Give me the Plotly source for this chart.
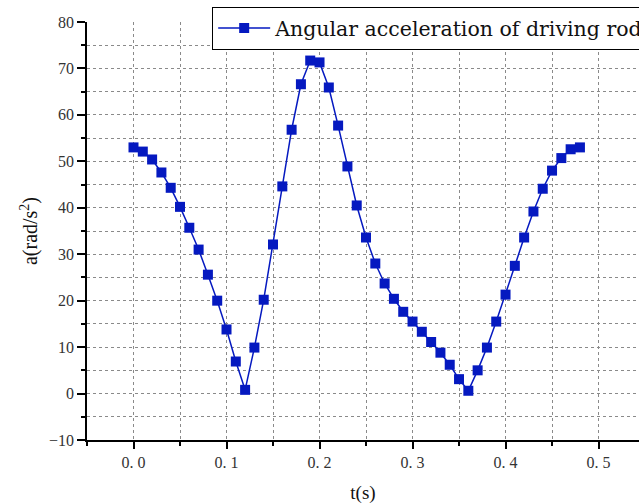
import plotly.graph_objects as go

t = [0.00, 0.01, 0.02, 0.03, 0.04, 0.05, 0.06, 0.07, 0.08, 0.09,
     0.10, 0.11, 0.12, 0.13, 0.14, 0.15, 0.16, 0.17, 0.18, 0.19,
     0.20, 0.21, 0.22, 0.23, 0.24, 0.25, 0.26, 0.27, 0.28, 0.29,
     0.30, 0.31, 0.32, 0.33, 0.34, 0.35, 0.36, 0.37, 0.38, 0.39,
     0.40, 0.41, 0.42, 0.43, 0.44, 0.45, 0.46, 0.47, 0.48]
a = [53.0, 52.1, 50.4, 47.6, 44.3, 40.2, 35.7, 31.0, 25.6, 20.0,
     13.8, 6.9, 0.8, 9.9, 20.2, 32.1, 44.6, 56.8, 66.6, 71.7,
     71.3, 65.9, 57.7, 48.9, 40.5, 33.6, 28.0, 23.7, 20.4, 17.6,
     15.5, 13.3, 11.1, 8.8, 6.2, 3.1, 0.6, 5.0, 9.9, 15.5,
     21.3, 27.5, 33.6, 39.2, 44.1, 48.0, 50.7, 52.6, 53.0]

x_tickvals = [0.0, 0.1, 0.2, 0.3, 0.4, 0.5]
x_ticktext = ["0. 0", "0. 1", "0. 2", "0. 3", "0. 4", "0. 5"]
y_tickvals = [-10, 0, 10, 20, 30, 40, 50, 60, 70, 80]
y_ticktext = ["\u221210", "0", "10", "20", "30", "40", "50", "60", "70", "80"]

series_name = "Angular acceleration of driving rod"
color = "#0519C0"

fig = go.Figure()
fig.add_trace(go.Scatter(
    x=t, y=a, mode="lines+markers", name=series_name,
    line=dict(color=color, width=1.5),
    marker=dict(symbol="square", size=10, color=color),
    showlegend=True,
))

grid = dict(showgrid=True, gridcolor="#8a8a8a", griddash="dot", gridwidth=1)
fig.update_layout(
    width=639, height=504,
    margin=dict(l=87, r=0, t=22, b=64, autoexpand=False),
    paper_bgcolor="white", plot_bgcolor="white",
    font=dict(family="Liberation Serif, DejaVu Serif, serif", color="#222"),
    showlegend=True,
    legend=dict(
        x=0.2264, y=1.036, xanchor="left", yanchor="top",
        bgcolor="white", bordercolor="black", borderwidth=1.2,
        font=dict(size=20.5, family="DejaVu Serif, serif", color="#111"),
        itemwidth=52,
    ),
    xaxis=dict(
        range=[-0.05, 0.5435], automargin=False,
        tickvals=x_tickvals, ticktext=x_ticktext,
        ticks="outside", ticklen=7, tickwidth=1.5, tickcolor="black",
        showline=True, linecolor="black", linewidth=1.5,
        tickfont=dict(size=16, family="Liberation Serif, serif", color="#333"),
        title=dict(text="t(s)", font=dict(size=19, family="Liberation Serif, serif", color="#111"), standoff=16),
        zeroline=False,
        minor=dict(dtick=0.05, tick0=0, ticks="outside", ticklen=4, tickcolor="black",
                   showgrid=True, gridcolor="#8a8a8a", griddash="dot", gridwidth=1),
        **grid,
    ),
    yaxis=dict(
        range=[-10, 80], automargin=False,
        tickvals=y_tickvals, ticktext=y_ticktext,
        ticks="outside", ticklen=8, tickwidth=1.5, tickcolor="black",
        showline=True, linecolor="black", linewidth=1.5,
        tickfont=dict(size=16, family="Liberation Serif, serif", color="#333"),
        title=dict(text="a(rad/s<sup>2</sup>)", font=dict(size=20, family="Liberation Serif, serif", color="#111"), standoff=6),
        zeroline=False,
        minor=dict(dtick=5, tick0=0, ticks="outside", ticklen=4, tickcolor="black",
                   showgrid=True, gridcolor="#8a8a8a", griddash="dot", gridwidth=1),
        **grid,
    ),
)

fig.write_html(
    "out.html",
    config={"displayModeBar": False},
    post_script="document.body.style.margin='0';document.documentElement.style.overflow='hidden';document.body.style.overflow='hidden';",
)
